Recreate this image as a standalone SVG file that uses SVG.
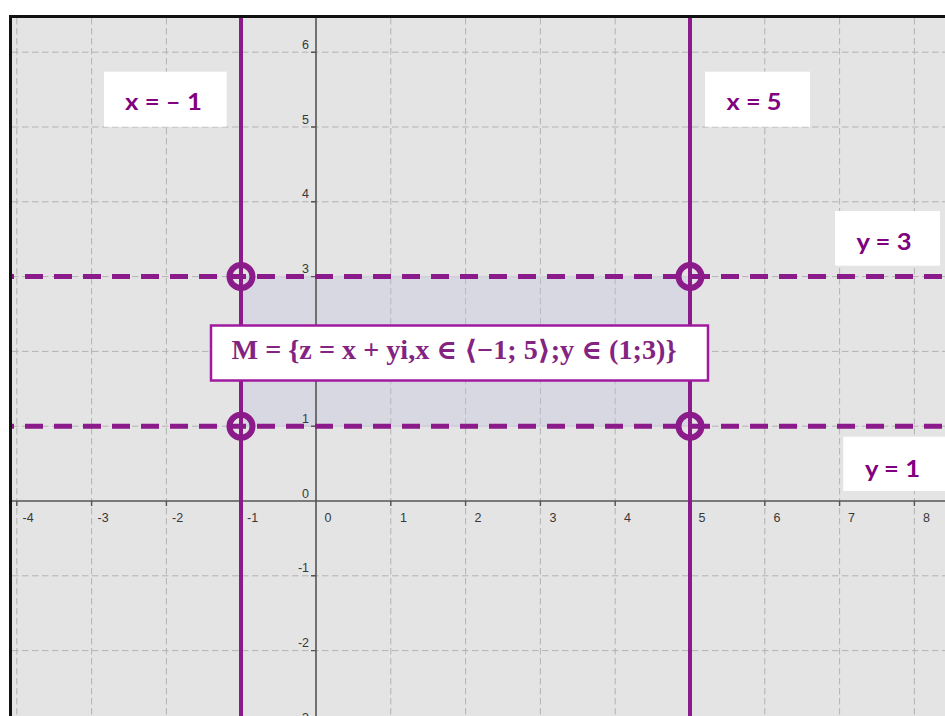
<svg xmlns="http://www.w3.org/2000/svg" width="945" height="716" viewBox="0 0 945 716">
  <style>
    .grid { stroke: #b3b3b3; stroke-width: 1; stroke-dasharray: 6.5 3.5; fill: none; }
    .axis { stroke: #555555; stroke-width: 1.6; fill: none; }
    .tick { stroke: #555555; stroke-width: 1.4; }
    .tl { font-family: "Liberation Sans", Arial, sans-serif; font-size: 12.5px; fill: #383838; }
    .tly { font-family: "Liberation Sans", Arial, sans-serif; font-size: 12.5px; fill: #383838; text-anchor: end; }
    .vline { stroke: #8b1a8b; stroke-width: 4; fill: none; }
    .hline { stroke: #8b1a8b; stroke-width: 5; fill: none; stroke-dasharray: 18 11; stroke-dashoffset: 16; }
    .pt { stroke: #8b1a8b; stroke-width: 6; fill: none; }
    .lblbox { fill: #ffffff; }
    .lbl { font-family: Lato, "Liberation Sans", sans-serif; font-weight: 700; font-size: 22px; fill: #800080; }
  </style>
  <rect x="0" y="0" width="945" height="716" fill="#ffffff"/>
  <g id="plane">
    <rect x="10" y="16" width="935" height="700" fill="#e4e4e4"/>
    <g id="grid">
      <path class="grid" d="M16.8 18V716 M91.6 18V716 M166.4 18V716 M241.2 18V716 M390.8 18V716 M465.6 18V716 M540.4 18V716 M615.2 18V716 M690 18V716 M764.8 18V716 M839.6 18V716 M914.4 18V716"/>
      <path class="grid" d="M12 52.2H945 M12 127H945 M12 201.8H945 M12 276.6H945 M12 351.4H945 M12 426.2H945 M12 575.8H945 M12 650.6H945"/>
    </g>
    <rect id="region" x="241" y="276.6" width="449" height="149.6" fill="#c4c4e0" fill-opacity="0.35" stroke="#d2d2dc" stroke-width="1.5"/>
    <g id="axes">
      <path class="axis" d="M11 501H945 M316 18V716"/>
      <path class="tick" d="M16.8 501V506 M91.6 501V506 M166.4 501V506 M241.2 501V506 M390.8 501V506 M465.6 501V506 M540.4 501V506 M615.2 501V506 M690 501V506 M764.8 501V506 M839.6 501V506 M914.4 501V506"/>
      <path class="tick" d="M311 52.2H316 M311 127H316 M311 201.8H316 M311 276.6H316 M311 351.4H316 M311 426.2H316 M311 575.8H316 M311 650.6H316"/>
      <g id="xlabels">
        <text class="tl" x="22.5" y="522">-4</text>
        <text class="tl" x="97.5" y="522">-3</text>
        <text class="tl" x="172" y="522">-2</text>
        <text class="tl" x="247" y="522">-1</text>
        <text class="tl" x="324.5" y="522">0</text>
        <text class="tl" x="400" y="522">1</text>
        <text class="tl" x="474.5" y="522">2</text>
        <text class="tl" x="549.5" y="522">3</text>
        <text class="tl" x="624" y="522">4</text>
        <text class="tl" x="698.5" y="522">5</text>
        <text class="tl" x="773.5" y="522">6</text>
        <text class="tl" x="848" y="522">7</text>
        <text class="tl" x="923" y="522">8</text>
      </g>
      <g id="ylabels">
        <text class="tly" x="309" y="48.7">6</text>
        <text class="tly" x="309" y="123.5">5</text>
        <text class="tly" x="309" y="198.3">4</text>
        <text class="tly" x="309" y="273.1">3</text>
        <text class="tly" x="309" y="422.7">1</text>
        <text class="tly" x="309" y="497.5">0</text>
        <text class="tly" x="309" y="572.3">-1</text>
        <text class="tly" x="309" y="647.1">-2</text>
        <text class="tly" x="309" y="721.9">-3</text>
      </g>
    </g>
    <rect x="9" y="15" width="936" height="3" fill="#111111"/>
    <rect x="9" y="15" width="3" height="701" fill="#111111"/>
  </g>
  <g id="lines">
    <path id="line-x-neg1" class="vline" d="M241 18V716"/>
    <path id="line-x-5" class="vline" d="M690 18V716"/>
    <path id="line-y-3" class="hline" d="M12 276.6H945"/>
    <path id="line-y-1" class="hline" d="M12 426.2H945"/>
  </g>
  <g id="points">
    <circle class="pt" cx="241" cy="276.6" r="11.5"/>
    <circle class="pt" cx="690" cy="276.6" r="11.5"/>
    <circle class="pt" cx="241" cy="426.2" r="11.5"/>
    <circle class="pt" cx="690" cy="426.2" r="11.5"/>
  </g>
  <g id="formula">
    <rect x="211" y="325.5" width="497" height="55" fill="#ffffff" stroke="#a01aa0" stroke-width="2.5"/>
    <text x="231.5" y="359" font-family="'Liberation Serif', 'DejaVu Serif', serif" font-weight="700" font-size="27" fill="#832482" textLength="445" lengthAdjust="spacingAndGlyphs">M = {z = x + yi,x ∈ ⟨−1; 5⟩;y ∈ (1;3)}</text>
  </g>
  <g id="label-x-neg1">
    <rect class="lblbox" x="104" y="71.7" width="122.7" height="55"/>
    <text class="lbl" x="125" y="110" textLength="77" lengthAdjust="spacingAndGlyphs">x = – 1</text>
  </g>
  <g id="label-x-5">
    <rect class="lblbox" x="705" y="71.7" width="105" height="55"/>
    <text class="lbl" x="726.5" y="110" textLength="55" lengthAdjust="spacingAndGlyphs">x = 5</text>
  </g>
  <g id="label-y-3">
    <rect class="lblbox" x="835" y="211" width="105" height="54.7"/>
    <text class="lbl" x="856.5" y="250" textLength="55" lengthAdjust="spacingAndGlyphs">y = 3</text>
  </g>
  <g id="label-y-1">
    <rect class="lblbox" x="843.3" y="436.7" width="101.7" height="54.3"/>
    <text class="lbl" x="865" y="476.5" textLength="55" lengthAdjust="spacingAndGlyphs">y = 1</text>
  </g>
</svg>
